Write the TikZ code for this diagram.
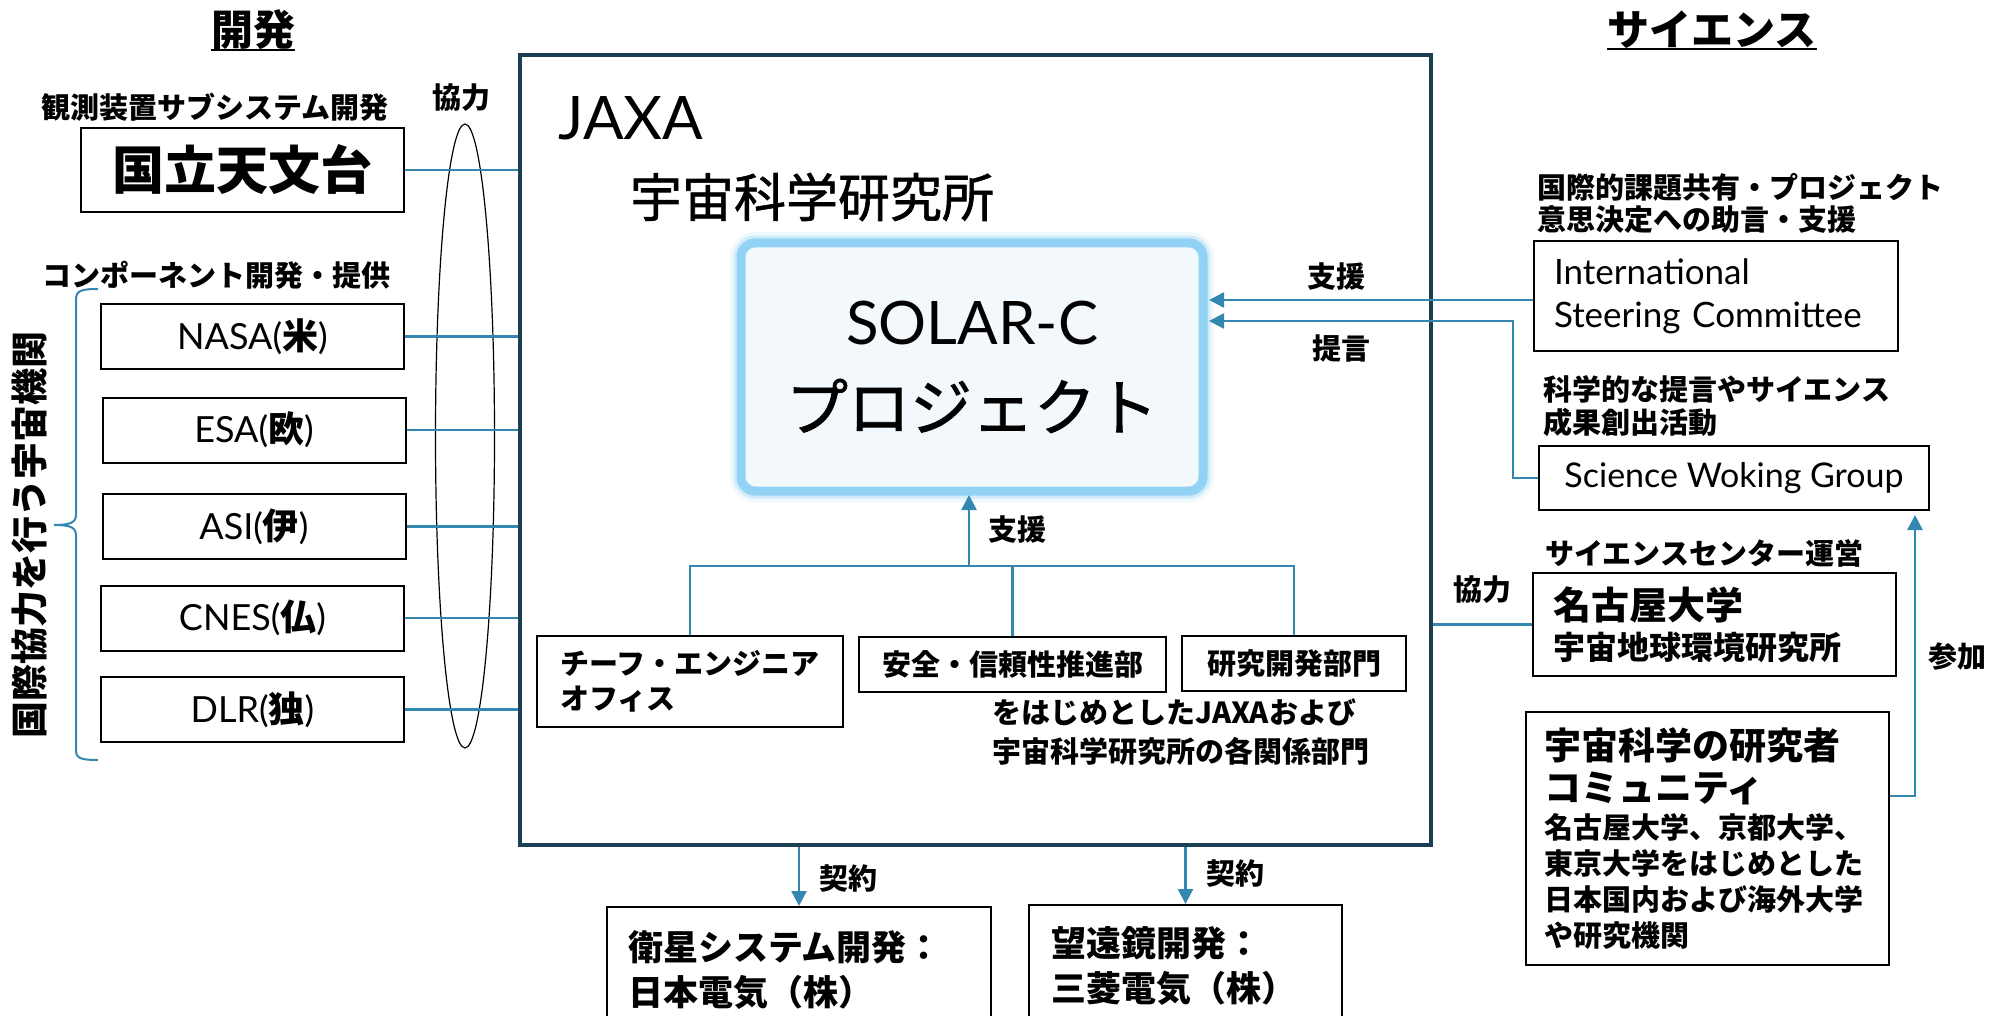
\documentclass[tikz,border=0pt]{standalone}
\usepackage{fontspec}
\setmainfont{Lato}
\newfontfamily\jp{Noto Sans CJK JP}
\newfontfamily\jpm{Noto Sans CJK JP}[FakeBold=1.2]
\usetikzlibrary{arrows.meta,shapes.geometric,calc}
\definecolor{lnblue}{RGB}{52,136,176}
\definecolor{jaxac}{RGB}{27,64,84}
\definecolor{glowc}{RGB}{146,211,245}
\definecolor{solarfill}{RGB}{243,248,253}
\newcommand{\setfs}[2]{\fontsize{#1}{#2}\selectfont}
\newcommand{\jpb}{\jp\bfseries}
\begin{document}
\begin{tikzpicture}[x=1pt,y=-1pt,
  box/.style={draw=black, line width=2pt, inner sep=0pt},
  conn/.style={draw=lnblue, line width=2.5pt},
  arr/.style={conn, -{Triangle[length=15pt,width=15pt]}},
  lbl/.style={inner sep=0pt, font=\jpb\setfs{29}{32}},
  agency/.style={box, minimum width=303pt, minimum height=65pt, font=\setfs{36}{38}},
  solarbox/.style={draw=glowc, line width=9pt, fill=solarfill, rounded corners=14pt,
    minimum width=462pt, minimum height=248pt, inner sep=0pt, outer sep=0pt,
    align=center, font=\setfs{60}{86},
    preaction={draw=glowc!45, line width=22pt, opacity=0.35},
    preaction={draw=glowc!70, line width=15pt, opacity=0.5}},
]
\useasboundingbox (0,0) rectangle (1989,1016);

% headings
\node[inner sep=0pt, font=\jpb\setfs{42}{46}] (hdev) at (253,30) {開発};
\draw[line width=2pt] (hdev.south west) -- (hdev.south east);
\node[inner sep=0pt, font=\jpb\setfs{42}{46}] (hsci) at (1712,30) {サイエンス};
\draw[line width=2pt] (hsci.south west) -- (hsci.south east);

% JAXA frame
\node[draw=jaxac, line width=4.5pt, minimum width=911pt, minimum height=790pt, inner sep=0pt] (jaxa) at (975.5,450) {};
\node[inner sep=0pt, anchor=base west, font=\setfs{60}{64}] (tjaxa) at (558,140) {JAXA};
\node[inner sep=0pt, font=\jpm\setfs{52}{56}] (tisas) at (812,197) {宇宙科学研究所};

% SOLAR-C project
\node[solarbox] (solar) at (972,367) {SOLAR-C\\{\jpm\setfs{62}{86}プロジェクト}};

% left column
\node[lbl] (lobs) at (215,107) {観測装置サブシステム開発};
\node[box, minimum width=323pt, minimum height=84pt, font=\jpb\setfs{52}{56}] (naoj) at (242.5,170) {国立天文台};
\node[lbl] (lcomp) at (216,275) {コンポーネント開発・提供};
\node[agency] (nasa) at (252.5,336.5) {NASA({\jpb 米})};
\node[agency] (esa) at (254,430) {ESA({\jpb 欧})};
\node[agency] (asi) at (254,526.5) {ASI({\jpb 伊})};
\node[agency] (cnes) at (252.5,618) {CNES({\jpb 仏})};
\node[agency] (dlr) at (252.5,709.5) {DLR({\jpb 独})};
\node[inner sep=0pt, rotate=90, font=\jpb\setfs{37}{40}] (lintl) at (30,534.5) {国際協力を行う宇宙機関};
\draw[conn, line width=2pt] (98,289) .. controls (80,289) and (76,291) .. (76,300) -- (76,514)
  .. controls (76,522) and (72,525) .. (54,525) .. controls (72,525) and (76,528) .. (76,536)
  -- (76,750) .. controls (76,758) and (80,760) .. (98,760);
\node[draw=black, ellipse, line width=1.2pt, minimum width=59pt, minimum height=624pt, inner sep=0pt] (ring) at (465,436) {};
\node[lbl] (lkyo) at (461,98) {協力};
\foreach \n in {naoj,nasa,esa,asi,cnes,dlr}
  \draw[conn] (\n.east) -- (\n.east -| jaxa.west);

% internal departments
\node[box, minimum width=306pt, minimum height=91pt, align=left, font=\jpb\setfs{29}{35}] (chief) at (690,681.5) {チーフ・エンジニア\\オフィス};
\node[box, minimum width=307pt, minimum height=55pt, font=\jpb\setfs{29}{32}] (safety) at (1012.5,664.5) {安全・信頼性推進部};
\node[box, minimum width=224pt, minimum height=55pt, font=\jpb\setfs{29}{32}] (rnd) at (1294,663.5) {研究開発部門};
\node[lbl, anchor=west, align=left, font=\jpb\setfs{29}{39}] (tothers) at (992,732.5) {をはじめとしたJAXAおよび\\宇宙科学研究所の各関係部門};
\coordinate (bus) at (969,566);
\draw[conn] (chief.north) |- (bus) -- (bus -| rnd.north) -- (rnd.north);
\draw[conn] (safety.north) -- (safety.north |- bus);
\draw[arr, shorten >=4pt] (bus) -- (bus |- solar.south);
\node[lbl] (lsup2) at (1017,530) {支援};

% contractors
\node[box, minimum width=384pt, minimum height=126pt, text width=342pt, inner xsep=21pt, align=left, font=\jpb\setfs{35}{45}] (nec) at (799,970) {衛星システム開発：\\日本電気（株）};
\node[box, minimum width=313pt, minimum height=123pt, text width=269pt, inner xsep=22pt, align=left, font=\jpb\setfs{35}{45}] (mel) at (1185.5,966.5) {望遠鏡開発：\\三菱電気（株）};
\draw[arr] (nec.north |- jaxa.south) -- (nec.north);
\draw[arr] (mel.north |- jaxa.south) -- (mel.north);
\node[lbl] (lcon1) at (848,879) {契約};
\node[lbl] (lcon2) at (1235,874) {契約};

% science side
\node[lbl, anchor=west, align=left] (lisc) at (1537,203) {国際的課題共有・プロジェクト\\意思決定への助言・支援};
\node[box, minimum height=110pt, text width=324pt, inner xsep=20pt, align=left, font=\setfs{35}{43}] (isc) at (1716,296) {International\\Steering Committee};
\node[lbl, anchor=west, align=left, font=\jpb\setfs{29}{33}] (lswg) at (1543,406) {科学的な提言やサイエンス\\成果創出活動};
\node[box, minimum width=390pt, minimum height=64pt, font=\setfs{34}{38}] (swg) at (1734,478) {Science Woking Group};
\node[lbl, anchor=west] (lssc) at (1545,553) {サイエンスセンター運営};
\node[lbl] (lkyo2) at (1482,590) {協力};
\node[box, minimum height=103pt, text width=323pt, inner xsep=20pt, align=left, font=\jpb\setfs{32}{40}] (nagoya) at (1714.5,624.5) {{\setfs{38}{40}名古屋大学}\\宇宙地球環境研究所};
\node[box, minimum height=253pt, text width=327pt, inner xsep=18pt, align=left, font=\jpb\setfs{29}{36}] (comm) at (1707.5,838.5) {{\setfs{37}{36}宇宙科学の研究者}\\[6pt]{\setfs{37}{36}コミュニティ}\\[1pt]名古屋大学、京都大学、\\東京大学をはじめとした\\日本国内および海外大学\\や研究機関};

\draw[arr, shorten >=6pt] ([yshift=-4pt]isc.west) -- ([yshift=-4pt]isc.west -| solar.east);
\coordinate (tk) at (1513,321);
\draw[arr, shorten >=6pt] (swg.west) -| (tk) -- (tk -| solar.east);
\node[lbl] (lsup1) at (1336,277) {支援};
\node[lbl] (lteigen) at (1341,348) {提言};
\draw[conn] (nagoya.west -| jaxa.east) -- (nagoya.west);
\coordinate (sk) at (1915,796);
\draw[arr, shorten >=4pt] (comm.east |- sk) -| (swg.south -| sk);
\node[lbl] (lsanka) at (1957,656) {参加};
\end{tikzpicture}
\end{document}
